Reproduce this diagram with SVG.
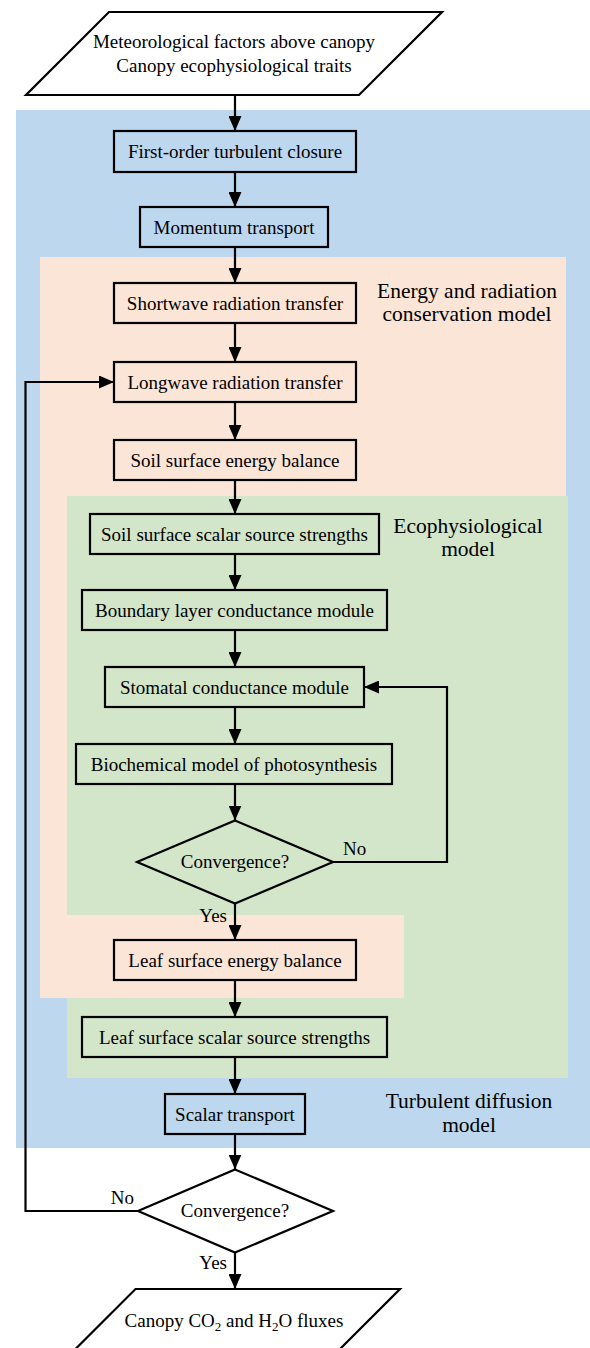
<svg xmlns="http://www.w3.org/2000/svg" width="590" height="1348" viewBox="0 0 590 1348">
<style>
.t{font-family:"Liberation Serif","Times New Roman",serif;font-size:19px;fill:#000;text-anchor:middle}
.lbl{font-family:"Liberation Serif","Times New Roman",serif;font-size:21.5px;fill:#000;text-anchor:middle}
.yn{font-family:"Liberation Serif","Times New Roman",serif;font-size:19px;fill:#000}
.box{fill:none;stroke:#000;stroke-width:2.2}
.io{fill:#fff;stroke:#000;stroke-width:2.2}
.c{fill:none;stroke:#000;stroke-width:2.2}
</style>
<defs>
<marker id="ah" markerUnits="userSpaceOnUse" markerWidth="15" markerHeight="13" refX="15" refY="6.5" orient="auto">
<path d="M0,0 L15,6.5 L0,13 z" fill="#000"/>
</marker>
</defs>
<g id="regions">
<rect id="turbulent-region" x="16" y="110" width="574" height="1038" fill="#BDD7EE"/>
<rect id="energy-region" x="40" y="257" width="526" height="741" fill="#FBE5D6"/>
<rect id="eco-region" x="67" y="496" width="501" height="582" fill="#D3E6C9"/>
<rect id="energy-region-lower" x="40" y="915" width="364" height="83" fill="#FBE5D6"/>
<text class="lbl" x="467" y="298">Energy and radiation</text>
<text class="lbl" x="467" y="321">conservation model</text>
<text class="lbl" x="468" y="533">Ecophysiological</text>
<text class="lbl" x="468" y="556">model</text>
<text class="lbl" x="469" y="1108">Turbulent diffusion</text>
<text class="lbl" x="469" y="1132">model</text>
</g>
<g id="connectors">
<line class="c" x1="235" y1="96" x2="235" y2="131" marker-end="url(#ah)"/>
<line class="c" x1="235" y1="172" x2="235" y2="207" marker-end="url(#ah)"/>
<line class="c" x1="235" y1="247" x2="235" y2="283" marker-end="url(#ah)"/>
<line class="c" x1="235" y1="323" x2="235" y2="362" marker-end="url(#ah)"/>
<line class="c" x1="235" y1="402" x2="235" y2="440" marker-end="url(#ah)"/>
<line class="c" x1="235" y1="480" x2="235" y2="514" marker-end="url(#ah)"/>
<line class="c" x1="235" y1="554" x2="235" y2="590" marker-end="url(#ah)"/>
<line class="c" x1="235" y1="630" x2="235" y2="667" marker-end="url(#ah)"/>
<line class="c" x1="235" y1="707" x2="235" y2="744" marker-end="url(#ah)"/>
<line class="c" x1="235" y1="784" x2="235" y2="820.5" marker-end="url(#ah)"/>
<line class="c" x1="235" y1="903.5" x2="235" y2="940" marker-end="url(#ah)"/>
<line class="c" x1="235" y1="980" x2="235" y2="1017" marker-end="url(#ah)"/>
<line class="c" x1="235" y1="1057" x2="235" y2="1094" marker-end="url(#ah)"/>
<line class="c" x1="235" y1="1134" x2="235" y2="1169.5" marker-end="url(#ah)"/>
<line class="c" x1="235" y1="1252.5" x2="235" y2="1289" marker-end="url(#ah)"/>
<polyline class="c" points="333,862 447,862 447,687 364,687" marker-end="url(#ah)"/>
<polyline class="c" points="138,1211 25.5,1211 25.5,382 114,382" marker-end="url(#ah)"/>
<text class="yn" x="343" y="855">No</text>
<text class="yn" x="227" y="922" text-anchor="end">Yes</text>
<text class="yn" x="134" y="1204" text-anchor="end">No</text>
<text class="yn" x="227" y="1269" text-anchor="end">Yes</text>
</g>
<g id="input">
<polygon class="io" points="109,12 442,12 359,95 26,95"/>
<text class="t" x="234" y="48">Meteorological factors above canopy</text>
<text class="t" x="234" y="72">Canopy ecophysiological traits</text>
</g>
<g id="closure"><rect class="box" x="114" y="131" width="242" height="41"/><text class="t" x="235" y="158">First-order turbulent closure</text></g>
<g id="momentum"><rect class="box" x="140" y="207" width="188" height="40"/><text class="t" x="234" y="233.5">Momentum transport</text></g>
<g id="shortwave"><rect class="box" x="114" y="283" width="242" height="40"/><text class="t" x="235" y="309.5">Shortwave radiation transfer</text></g>
<g id="longwave"><rect class="box" x="114" y="362" width="242" height="40"/><text class="t" x="235" y="388.5">Longwave radiation transfer</text></g>
<g id="soil-energy"><rect class="box" x="114" y="440" width="242" height="40"/><text class="t" x="235" y="466.5">Soil surface energy balance</text></g>
<g id="soil-scalar"><rect class="box" x="90" y="514" width="289" height="40"/><text class="t" x="234.5" y="540.5">Soil surface scalar source strengths</text></g>
<g id="boundary"><rect class="box" x="82" y="590" width="305" height="40"/><text class="t" x="234.5" y="616.5">Boundary layer conductance module</text></g>
<g id="stomatal"><rect class="box" x="105" y="667" width="259" height="40"/><text class="t" x="234.5" y="693.5">Stomatal conductance module</text></g>
<g id="biochemical"><rect class="box" x="76" y="744" width="316" height="40"/><text class="t" x="234" y="770.5">Biochemical model of photosynthesis</text></g>
<g id="convergence-1"><polygon class="box" points="235,820.5 333,862 235,903.5 137,862"/><text class="t" x="235" y="868">Convergence?</text></g>
<g id="leaf-energy"><rect class="box" x="114" y="940" width="242" height="40"/><text class="t" x="235" y="966.5">Leaf surface energy balance</text></g>
<g id="leaf-scalar"><rect class="box" x="82" y="1017" width="305" height="40"/><text class="t" x="234.5" y="1043.5">Leaf surface scalar source strengths</text></g>
<g id="scalar-transport"><rect class="box" x="165" y="1094" width="140" height="40"/><text class="t" x="235" y="1120.5">Scalar transport</text></g>
<g id="convergence-2"><polygon class="box" points="235,1169.5 333,1211 235,1252.5 138,1211"/><text class="t" x="235" y="1217">Convergence?</text></g>
<g id="output">
<polygon class="io" points="135.5,1289 400,1289 317,1372 52.5,1372"/>
<text class="t" x="234" y="1327">Canopy CO<tspan font-size="13" dy="4">2</tspan><tspan dy="-4"> and H</tspan><tspan font-size="13" dy="4">2</tspan><tspan dy="-4">O fluxes</tspan></text>
</g>
</svg>
